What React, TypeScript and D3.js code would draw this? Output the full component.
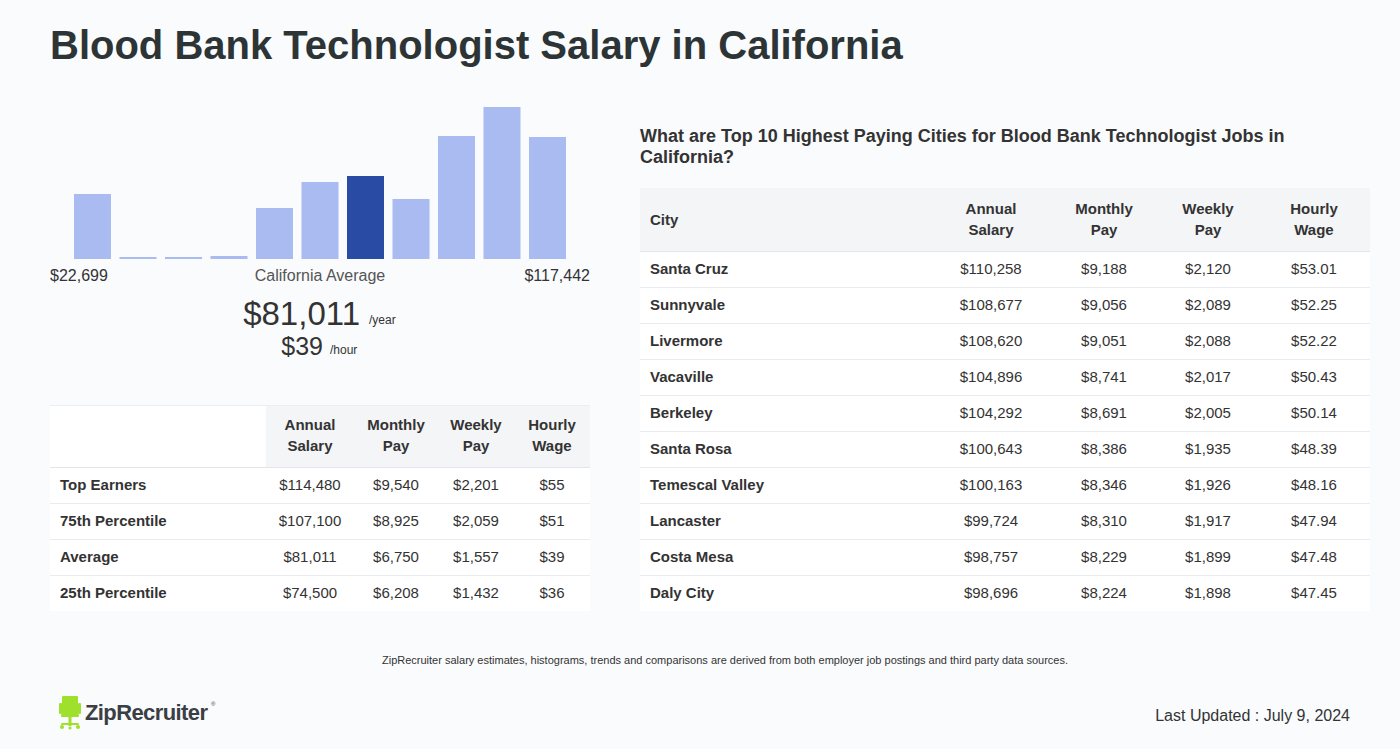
import React from "react";
import * as d3 from "d3";

const histValues = [65, 2, 2, 3, 51, 77, 83, 60, 123, 152, 122];
const highlightIndex = 6;
const minLabel = "$22,699";
const maxLabel = "$117,442";
const avgYear = "$81,011";
const avgHour = "$39";

const leftHeaders = [["Annual", "Salary"], ["Monthly", "Pay"], ["Weekly", "Pay"], ["Hourly", "Wage"]];
const leftRowLabels = ["Top Earners", "75th Percentile", "Average", "25th Percentile"];
const leftAnnual = ["$114,480", "$107,100", "$81,011", "$74,500"];
const leftMonthly = ["$9,540", "$8,925", "$6,750", "$6,208"];
const leftWeekly = ["$2,201", "$2,059", "$1,557", "$1,432"];
const leftHourly = ["$55", "$51", "$39", "$36"];

const cities = ["Santa Cruz", "Sunnyvale", "Livermore", "Vacaville", "Berkeley", "Santa Rosa", "Temescal Valley", "Lancaster", "Costa Mesa", "Daly City"];
const cityAnnual = ["$110,258", "$108,677", "$108,620", "$104,896", "$104,292", "$100,643", "$100,163", "$99,724", "$98,757", "$98,696"];
const cityMonthly = ["$9,188", "$9,056", "$9,051", "$8,741", "$8,691", "$8,386", "$8,346", "$8,310", "$8,229", "$8,224"];
const cityWeekly = ["$2,120", "$2,089", "$2,088", "$2,017", "$2,005", "$1,935", "$1,926", "$1,917", "$1,899", "$1,898"];
const cityHourly = ["$53.01", "$52.25", "$52.22", "$50.43", "$50.14", "$48.39", "$48.16", "$47.94", "$47.48", "$47.45"];

const FONT = "'Liberation Sans', Arial, Helvetica, sans-serif";
const DARK = "#2d3436";
const TEXT = "#333";

export default function App() {
  // Histogram
  const x = d3.scaleBand<number>().domain(d3.range(histValues.length)).range([74, 566]).paddingInner(0.187).paddingOuter(0);
  const baseY = 259;
  const y = d3.scaleLinear().domain([0, 152]).range([baseY, 107]);

  // Left table
  const leftRows = d3.scaleBand<number>().domain(d3.range(leftRowLabels.length)).range([467, 611]);
  const leftCols = [310, 396, 476, 552];
  const leftData = [leftAnnual, leftMonthly, leftWeekly, leftHourly];

  // Right table
  const rightRows = d3.scaleBand<number>().domain(d3.range(cities.length)).range([251, 611]);
  const rightCols = [991, 1104, 1208, 1314];
  const rightData = [cityAnnual, cityMonthly, cityWeekly, cityHourly];

  return (
    <svg width={1400} height={749} style={{ position: "absolute", left: 0, top: 0, fontFamily: FONT }}>
      <rect x={0} y={0} width={1400} height={749} fill="#fafbfd" />
      <text x={50} y={59} fontSize={40} fontWeight="bold" fill={DARK}>Blood Bank Technologist Salary in California</text>

      {/* Histogram */}
      {histValues.map((v, i) => (
        <rect key={i} x={x(i)} y={y(v)} width={x.bandwidth()} height={baseY - y(v)}
          fill={i === highlightIndex ? "#294ba3" : "#a9bbf1"} />
      ))}
      <text x={50} y={281} fontSize={16} fill={TEXT}>{minLabel}</text>
      <text x={320} y={281} fontSize={16} fill="#555" textAnchor="middle">California Average</text>
      <text x={590} y={281} fontSize={16} fill={TEXT} textAnchor="end">{maxLabel}</text>
      <text x={360} y={325} fontSize={33} fill={TEXT} textAnchor="end">{avgYear}</text>
      <text x={369} y={324} fontSize={12} fill={TEXT}>/year</text>
      <text x={323} y={355} fontSize={25} fill={TEXT} textAnchor="end">{avgHour}</text>
      <text x={330} y={354} fontSize={12} fill={TEXT}>/hour</text>

      {/* Left table */}
      <rect x={50} y={405} width={540} height={206} fill="#ffffff" />
      <rect x={266} y={405} width={324} height={62} fill="#f4f5f7" />
      <line x1={50} x2={590} y1={405.5} y2={405.5} stroke="#eceef1" />
      <line x1={50} x2={590} y1={467.5} y2={467.5} stroke="#e3e5e8" />
      {leftHeaders.map((h, j) => (
        <text key={j} x={leftCols[j]} y={430} fontSize={15} fontWeight="bold" fill={TEXT} textAnchor="middle">
          <tspan x={leftCols[j]} dy={0}>{h[0]}</tspan>
          <tspan x={leftCols[j]} dy={21}>{h[1]}</tspan>
        </text>
      ))}
      {leftRowLabels.map((lab, i) => {
        const ry = leftRows(i)!;
        const cy = ry + leftRows.bandwidth() / 2 + 5;
        return (
          <g key={i}>
            {i > 0 && <line x1={50} x2={590} y1={ry + 0.5} y2={ry + 0.5} stroke="#e9ebee" />}
            <text x={60} y={cy} fontSize={15} fontWeight="bold" fill={TEXT}>{lab}</text>
            {leftData.map((col, j) => (
              <text key={j} x={leftCols[j]} y={cy} fontSize={15} fill={TEXT} textAnchor="middle">{col[i]}</text>
            ))}
          </g>
        );
      })}

      {/* Right table */}
      <text x={640} y={142} fontSize={18} fontWeight="bold" fill={TEXT}>What are Top 10 Highest Paying Cities for Blood Bank Technologist Jobs in</text>
      <text x={640} y={163} fontSize={18} fontWeight="bold" fill={TEXT}>California?</text>
      <rect x={640} y={188} width={730} height={423} fill="#ffffff" />
      <rect x={640} y={188} width={730} height={63} fill="#f4f5f7" />
      <line x1={640} x2={1370} y1={251.5} y2={251.5} stroke="#e3e5e8" />
      <text x={650} y={225} fontSize={15} fontWeight="bold" fill={TEXT}>City</text>
      {leftHeaders.map((h, j) => (
        <text key={j} x={rightCols[j]} y={214} fontSize={15} fontWeight="bold" fill={TEXT} textAnchor="middle">
          <tspan x={rightCols[j]} dy={0}>{h[0]}</tspan>
          <tspan x={rightCols[j]} dy={21}>{h[1]}</tspan>
        </text>
      ))}
      {cities.map((c, i) => {
        const ry = rightRows(i)!;
        const cy = ry + rightRows.bandwidth() / 2 + 5;
        return (
          <g key={i}>
            {i > 0 && <line x1={640} x2={1370} y1={ry + 0.5} y2={ry + 0.5} stroke="#e9ebee" />}
            <text x={650} y={cy} fontSize={15} fontWeight="bold" fill={TEXT}>{c}</text>
            {rightData.map((col, j) => (
              <text key={j} x={rightCols[j]} y={cy} fontSize={15} fill={TEXT} textAnchor="middle">{col[i]}</text>
            ))}
          </g>
        );
      })}

      {/* Footer */}
      <text x={725} y={664} fontSize={11} fill={TEXT} textAnchor="middle">ZipRecruiter salary estimates, histograms, trends and comparisons are derived from both employer job postings and third party data sources.</text>
      <text x={1350} y={721} fontSize={16} fill={TEXT} textAnchor="end">Last Updated : July 9, 2024</text>

      {/* Logo */}
      <g fill="#9ee02c" stroke="none">
        <rect x={62} y={696} width={16} height={19} rx={1} />
        <rect x={59} y={703} width={3} height={11} rx={1} />
        <rect x={78} y={703} width={3} height={11} rx={1} />
        <rect x={61} y={714} width={18} height={3} rx={1} />
        <rect x={68.5} y={717} width={3} height={9} />
        <rect x={61} y={723} width={18} height={2} rx={1} />
        <circle cx={62} cy={727} r={2} />
        <circle cx={78} cy={727} r={2} />
        <circle cx={70} cy={728} r={1.5} />
      </g>
      <text x={85} y={720} fontSize={22} fontWeight="bold" fill="#3b3f45" letterSpacing={-0.6}>ZipRecruiter</text>
      <text x={211} y={706} fontSize={6} fill="#3b3f45">®</text>
    </svg>
  );
}
